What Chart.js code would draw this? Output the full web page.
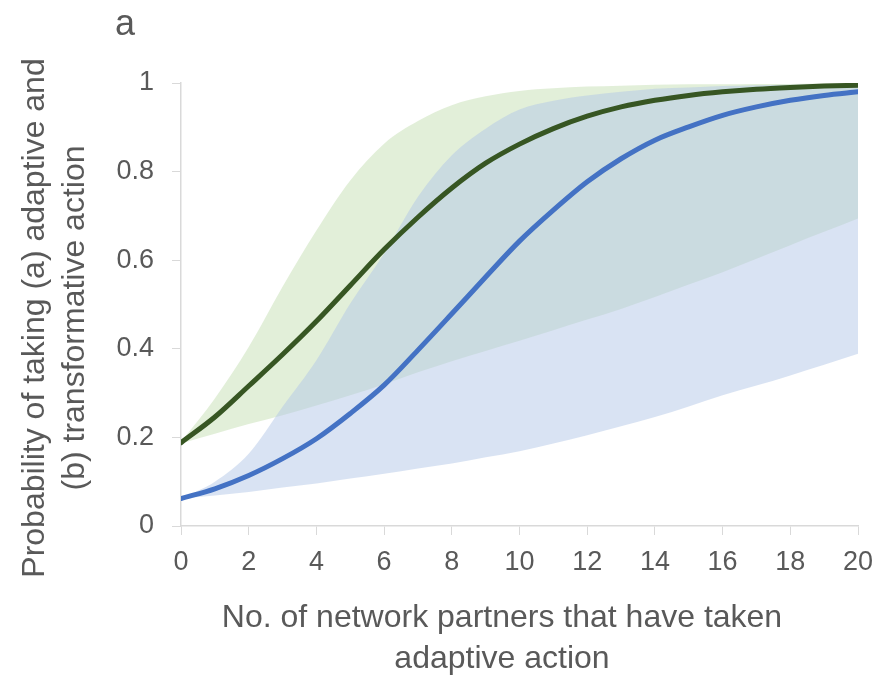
<!DOCTYPE html>
<html>
<head>
<meta charset="utf-8">
<script src="https://cdn.jsdelivr.net/npm/chart.js@4.4.1/dist/chart.umd.min.js"></script>
<style>
    body { margin: 0; background: #ffffff; }
</style>
</head>
<body>
<canvas id="grafico-probabilidade" width="877" height="678"></canvas>
<script>
// Eixo x: número de parceiros na rede
let parceiros = [0, 1, 2, 3, 4, 5, 6, 7, 8, 9, 10, 11, 12, 13, 14, 15, 16, 17, 18, 19, 20];

// Curva verde (linha média e faixa)
let verdeMedia = [0.188, 0.246, 0.316, 0.387, 0.462, 0.543, 0.624, 0.697, 0.763, 0.819, 0.862,
    0.897, 0.925, 0.946, 0.961, 0.972, 0.980, 0.986, 0.990, 0.993, 0.995];
let verdeSuperior = [0.190, 0.288, 0.404, 0.540, 0.667, 0.780, 0.863, 0.914, 0.950, 0.970, 0.982,
    0.988, 0.992, 0.994, 0.996, 0.997, 0.997, 0.998, 0.998, 0.999, 0.999];
let verdeInferior = [0.186, 0.208, 0.230, 0.250, 0.272, 0.295, 0.320, 0.347, 0.372, 0.395, 0.418,
    0.442, 0.466, 0.490, 0.517, 0.545, 0.573, 0.603, 0.634, 0.664, 0.694];

// Curva azul (linha média e faixa)
let azulMedia = [0.062, 0.084, 0.114, 0.152, 0.197, 0.254, 0.318, 0.397, 0.479, 0.562, 0.643,
    0.713, 0.777, 0.829, 0.871, 0.901, 0.927, 0.946, 0.961, 0.972, 0.980];
let azulSuperior = [0.062, 0.100, 0.163, 0.269, 0.374, 0.502, 0.615, 0.743, 0.837, 0.897, 0.940,
    0.960, 0.972, 0.980, 0.987, 0.990, 0.993, 0.995, 0.996, 0.997, 0.998];
let azulInferior = [0.062, 0.069, 0.077, 0.087, 0.096, 0.107, 0.118, 0.130, 0.141, 0.155, 0.169,
    0.186, 0.205, 0.225, 0.246, 0.270, 0.295, 0.317, 0.340, 0.364, 0.389];

let ticksX = [0, 2, 4, 6, 8, 10, 12, 14, 16, 18, 20];
let ticksY = [0, 0.2, 0.4, 0.6, 0.8, 1];

let tituloX = ["No. of network partners that have taken", "adaptive action"];
let tituloY = ["Probability of taking (a) adaptive and", "(b) transformative action"];

const corTexto = "#595959";
const corEixo = "#d9d9d9";
const fonte = "'Liberation Sans', Arial, sans-serif";

function pontos(valores) {
    return parceiros.map((x, i) => ({ x: x, y: valores[i] }));
}

function faixa(valores, cor, preenche, ordem) {
    return {
        data: pontos(valores),
        borderWidth: 0,
        borderColor: "rgba(0,0,0,0)",
        backgroundColor: cor,
        pointRadius: 0,
        fill: preenche,
        order: ordem,
        cubicInterpolationMode: "monotone",
    };
}

function linha(valores, cor) {
    return {
        data: pontos(valores),
        borderWidth: 5,
        borderColor: cor,
        pointRadius: 0,
        fill: false,
        order: 0,
        borderCapStyle: "round",
        cubicInterpolationMode: "monotone",
    };
}

// Criando estrutura para plotar gráfico - dados
let dadosProbabilidade = {
    datasets: [
        faixa(verdeSuperior, "rgba(197,224,180,0.5)", "+1", 3),
        faixa(verdeInferior, "rgba(0,0,0,0)", false, 3),
        faixa(azulSuperior, "rgba(180,199,231,0.5)", "+1", 2),
        faixa(azulInferior, "rgba(0,0,0,0)", false, 2),
        linha(verdeMedia, "#375623"),
        linha(azulMedia, "#4472c4"),
    ]
};

// Letra do painel e títulos dos eixos
const textosGrafico = {
    id: "textosGrafico",
    afterDraw(chart) {
        const ctx = chart.ctx;
        ctx.save();
        ctx.fillStyle = corTexto;
        ctx.textBaseline = "alphabetic";

        ctx.font = "36px " + fonte;
        ctx.textAlign = "left";
        ctx.fillText("a", 115, 35);

        ctx.font = "32px " + fonte;
        ctx.textAlign = "center";
        ctx.fillText(tituloX[0], 502, 627);
        ctx.fillText(tituloX[1], 502, 668);

        ctx.translate(44, 318);
        ctx.rotate(-Math.PI / 2);
        ctx.fillText(tituloY[0], 0, 0);
        ctx.fillText(tituloY[1], 0, 40);
        ctx.restore();
    }
};

// Criando estrutura para plotar gráfico - config
const configProbabilidade = {
    type: "line",
    data: dadosProbabilidade,
    plugins: [textosGrafico],
    options: {
        responsive: false,
        animation: false,
        layout: { padding: { top: 83, right: 19 } },
        plugins: {
            legend: { display: false },
            tooltip: { enabled: false },
        },
        scales: {
            x: {
                type: "linear",
                min: 0,
                max: 20,
                afterBuildTicks: (eixo) => { eixo.ticks = ticksX.map(v => ({ value: v })); },
                afterFit: (eixo) => {
                    eixo.height = 152;
                    eixo.paddingLeft = 0;
                    eixo.paddingRight = 0;
                },
                ticks: { color: corTexto, font: { family: fonte, size: 27 }, padding: 11, maxRotation: 0 },
                grid: { drawOnChartArea: false, tickLength: 9, color: corEixo },
                border: { color: corEixo, width: 1.5 },
            },
            y: {
                min: 0,
                max: 1,
                afterBuildTicks: (eixo) => { eixo.ticks = ticksY.map(v => ({ value: v })); },
                afterFit: (eixo) => { eixo.width = 181; },
                ticks: {
                    color: corTexto,
                    font: { family: fonte, size: 27 },
                    padding: 18,
                    callback: (valor) => String(valor),
                },
                grid: { drawOnChartArea: false, tickLength: 9, color: corEixo },
                border: { color: corEixo, width: 1.5 },
            }
        }
    }
};

// Adicionando gráfico criado em div na tela
let graficoProbabilidade = new Chart(
    document.getElementById("grafico-probabilidade"),
    configProbabilidade
);
</script>
</body>
</html>
